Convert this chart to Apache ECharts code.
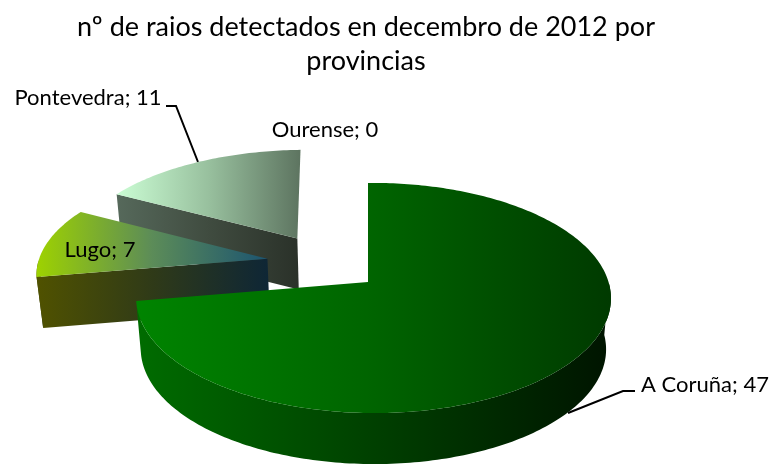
<!DOCTYPE html>
<html>
<head>
<meta charset="utf-8">
<style>
  html, body { margin: 0; padding: 0; background: #fff; }
  #chart { width: 771px; height: 464px; }
</style>
</head>
<body>
<div id="chart"></div>
<script src="https://cdn.jsdelivr.net/npm/echarts@6/dist/echarts.min.js"></script>
<script>
const provinces = ['A Coruña', 'Lugo', 'Pontevedra', 'Ourense'];
const rays = [47, 7, 11, 0];

const fontFamily = 'Lato';

// slice explosion, in pie radii on the pie plane
const explode = [[0, 0], [-0.445, 0.215], [-0.32, 0.41], [0, 0]];
// exploded slices come out a bit bigger and less skewed than the plain projection
const sliceScale = [1, 1.044, 1.03, 1];
const sliceShear = [0, 0.1, 0.059, 0];

// top face / wall gradients per slice
const topStops = [
  ['#008400', '#006400', '#003a00'],
  ['#9ed200', '#5c8c58', '#1c5470'],
  ['#cbfdd4', '#98c09e', '#5d7460'],
  ['#888888', '#888888', '#888888'],
];
const wallStops = [
  ['#006c00', '#004000', '#001400'],
  ['#505200', '#2f3a18', '#0e2636'],
  ['#56695b', '#404c40', '#2a3129'],
  ['#444444', '#444444', '#444444'],
];

// label centres and leader lines, in pixels
const labelAt = [[705, 385], [100, 250], [88, 98], [325, 130]];
const leaders = [
  [[635, 391], [623, 391], [568, 413]],
  null,
  [[166, 106], [176, 106], [198, 162]],
  null,
];

// Excel-style perspective of the pie plane
const view = { cx: 368, cy: 282, a: 235, b: 112.8, k: 0.139, m: -0.023, depth: 51, shrink: 0.02 };

function project(u, v) {
  const w = 1 + view.k * v + view.m * u;
  return [view.cx + view.a * u / w, view.cy - view.b * v / w];
}

function drop(p) {
  return [p[0] + (view.cx - p[0]) * view.shrink, p[1] + view.depth];
}

const total = rays.reduce((a, b) => a + b, 0);
const toDeg = (v) => echarts.number.linearMap(v, [0, total], [0, 360]);
const rad = (d) => (d * Math.PI) / 180;

function gradient(stops) {
  return new echarts.graphic.LinearGradient(0, 0, 1, 0, [
    { offset: 0, color: stops[0] },
    { offset: 0.5, color: stops[1] },
    { offset: 1, color: stops[2] },
  ]);
}

function renderSlice(params, api) {
  const i = params.dataIndex;
  const value = api.value(0);
  const children = [];
  const base = (provinces.length - i) * 10;

  if (value > 0) {
    const before = rays.slice(0, i).reduce((a, b) => a + b, 0);
    const start = toDeg(before);
    const end = toDeg(before + value);
    const [ox, oy] = explode[i];
    const apex = project(ox, oy);
    const place = (d) => {
      const p = project(ox + Math.sin(rad(d)), oy + Math.cos(rad(d)));
      return [
        apex[0] + (p[0] - apex[0]) * sliceScale[i] + (p[1] - apex[1]) * sliceShear[i],
        p[1],
      ];
    };
    const rim = [];
    const front = [];
    for (let t = start; ; t += 1) {
      const d = Math.min(t, end);
      const p = place(d);
      rim.push(p);
      if (Math.cos(rad(d)) < 0) front.push(p);
      if (t >= end) break;
    }
    const wall = { fill: gradient(wallStops[i]) };
    const first = rim[0];
    const last = rim[rim.length - 1];

    // only the walls that face the viewer
    if (front.length > 1) {
      children.push({ type: 'polygon', z2: base, shape: { points: front.concat(front.map(drop).reverse()) }, style: wall });
    }
    if (Math.sin(rad(start)) < 1e-9) {
      children.push({ type: 'polygon', z2: base + 1, shape: { points: [apex, first, drop(first), drop(apex)] }, style: wall });
    }
    if (Math.sin(rad(end)) > 1e-9) {
      children.push({ type: 'polygon', z2: base + 1, shape: { points: [apex, last, drop(last), drop(apex)] }, style: wall });
    }
    children.push({ type: 'polygon', z2: base + 2, shape: { points: [apex].concat(rim) }, style: { fill: gradient(topStops[i]) } });
  }

  if (leaders[i]) {
    children.push({
      type: 'polyline', z2: 5, shape: { points: leaders[i] },
      style: { stroke: '#000', lineWidth: 2, fill: null },
    });
  }
  children.push({
    type: 'text', z2: 100,
    style: {
      text: `${provinces[i]}; ${value}`,
      x: labelAt[i][0], y: labelAt[i][1],
      fill: '#000', font: `22px ${fontFamily}`,
      textAlign: 'center', textVerticalAlign: 'middle',
    },
  });
  return { type: 'group', children };
}

const chart = echarts.init(document.getElementById('chart'));
chart.setOption({
  backgroundColor: '#fff',
  animation: false,
  title: {
    text: 'nº de raios detectados en decembro de 2012 por\nprovincias',
    left: 361,
    top: 5,
    textAlign: 'center',
    textStyle: { fontFamily, fontSize: 27, fontWeight: 'normal', color: '#000', lineHeight: 34 },
  },
  series: [{
    type: 'custom',
    coordinateSystem: 'none',
    data: rays.map((v) => [v]),
    renderItem: renderSlice,
  }],
});
</script>
</body>
</html>
